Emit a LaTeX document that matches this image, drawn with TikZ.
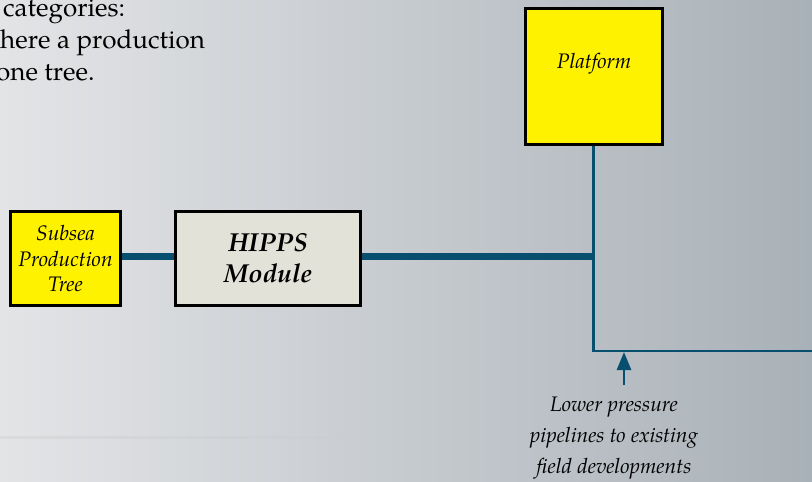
\documentclass[tikz,border=0pt]{standalone}
\usepackage{fontspec}
\setmainfont{texgyrepagella}[Extension=.otf,UprightFont=*-regular,ItalicFont=*-italic,BoldFont=*-bold,BoldItalicFont=*-bolditalic]
\usetikzlibrary{arrows.meta,fadings}
\definecolor{bgL}{HTML}{E3E4E6}
\definecolor{bgR}{HTML}{A9B1B8}
\definecolor{pipe}{RGB}{8,78,110}
\definecolor{ylw}{HTML}{FFF200}
\definecolor{beige}{HTML}{E3E2D8}
\tikzset{
  box/.style={draw=black, line width=3pt, inner sep=2pt, align=center},
  yellowbox/.style={box, fill=ylw},
  thickpipe/.style={draw=pipe, line width=7pt},
  thinpipe/.style={draw=pipe, line width=2.7pt},
  lbl/.style={font=\itshape\fontsize{21}{25.5}\selectfont, align=center}
}
\begin{document}
\begin{tikzpicture}[x=1pt,y=-1pt]
\useasboundingbox (0,0) rectangle (812,482);
\shade[left color=bgL,right color=bgR] (0,0) rectangle (812,482);
\clip (0,0) rectangle (812,482);
% faint rule
\fill[black, opacity=0.04, path fading=east] (0,436) rectangle (380,439);
% top-left text
\node[anchor=base west, inner sep=0pt, font=\fontsize{26}{31}\selectfont] (t1) at (3,16) {categories:};
\node[anchor=base west, inner sep=0pt, font=\fontsize{26}{31}\selectfont] (t2) at (0,48) {here a production};
\node[anchor=base west, inner sep=0pt, font=\fontsize{26}{31}\selectfont] (t3) at (-4,80) {one tree.};
% boxes
\node[yellowbox, minimum width=110pt, minimum height=94pt, lbl] (sub) at (65.5,258.5) {Subsea\\Production\\Tree};
\node[box, fill=beige, minimum width=185pt, minimum height=94pt,
      font=\bfseries\itshape\fontsize{26}{31}\selectfont] (hipps) at (268,258.5) {HIPPS\\Module};
\node[yellowbox, minimum width=137pt, minimum height=136pt] (plat) at (594,76.5) {};
\node[lbl, inner sep=0pt] (platt) at (594,64) {Platform};
% connectors
\coordinate (j) at (593.3,256.3);
\coordinate (c1) at (593.3,351);
\coordinate (c2) at (814,351);
\coordinate (arrS) at (624,385);
\coordinate (arrE) at (624,352);
\draw[thickpipe] (sub.east |- j) -- (hipps.west |- j);
\draw[thickpipe] (hipps.east |- j) -- (j);
\draw[thinpipe] (plat.south -| j) -- (c1) -- (c2);
\draw[thinpipe, -{Triangle[width=14pt,length=18pt]}] (arrS) -- (arrE);
% label
\node[lbl, font=\itshape\fontsize{21}{31}\selectfont, inner sep=0pt] (low) at (614,438) {Lower pressure\\pipelines to existing\\field developments};
\end{tikzpicture}
\end{document}
